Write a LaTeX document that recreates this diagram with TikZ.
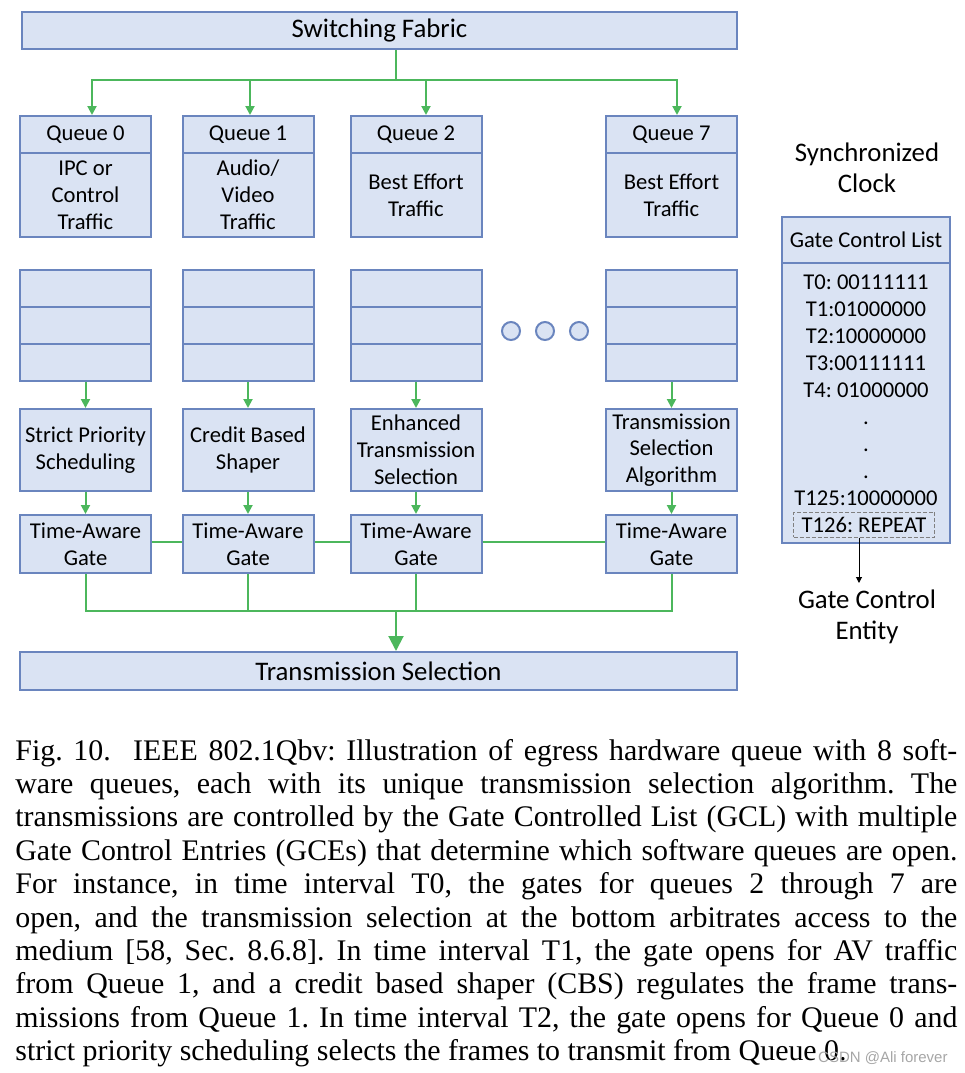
\documentclass[tikz,border=0pt]{standalone}
\usepackage{fontspec}
\setmainfont{Carlito}
\newfontfamily\capfont{Liberation Serif}
\newfontfamily\markfont{Liberation Sans}
\usetikzlibrary{arrows.meta}
\definecolor{boxfill}{RGB}{218,227,243}
\definecolor{boxline}{RGB}{106,133,190}
\definecolor{flow}{RGB}{76,183,92}
\newcommand\qfont{\fontsize{11.3}{13.4}\selectfont}
\newcommand\hfont{\fontsize{13.4}{15.5}\selectfont}
\frenchspacing

\begin{document}
\begin{tikzpicture}[x=0.5pt,y=-0.5pt,
  box/.style={rectangle,draw=boxline,fill=boxfill,line width=1pt,inner sep=0pt,align=center,font=\qfont},
  col/.style={box,minimum width=65.5pt},
  cell/.style={col,minimum height=18.5pt},
  wide/.style={box,font=\hfont,minimum height=18.5pt},
  ring/.style={circle,draw=boxline,fill=boxfill,line width=1pt,minimum size=9pt,inner sep=0pt},
  wire/.style={draw=flow,line width=1pt},
  feed/.style={wire,-{Triangle[length=4.5pt,width=4.5pt]}},
  bigfeed/.style={wire,-{Triangle[length=7.5pt,width=7.5pt]}}]
\useasboundingbox (0,0) rectangle (965,1073);

\node[wide,minimum width=357.5pt] (sf) at (379.5,30.5) {Switching Fabric};

% queues
\node[cell] (q0) at (85.5,134.5) {Queue 0};
\node[col,minimum height=42pt] (t0) at (85.5,195) {IPC or\\Control\\Traffic};
\node[cell] (q1) at (248,134.5) {Queue 1};
\node[col,minimum height=42pt] (t1) at (248,195) {Audio/\\Video\\Traffic};
\node[cell] (q2) at (416,134.5) {Queue 2};
\node[col,minimum height=42pt] (t2) at (416,195) {Best Effort\\Traffic};
\node[cell] (q7) at (671.5,134.5) {Queue 7};
\node[col,minimum height=42pt] (t7) at (671.5,195) {Best Effort\\Traffic};

% buffers
\node[cell] (s0a) at (85.5,288.5) {};
\node[cell] (s0b) at (85.5,325.5) {};
\node[cell] (s0c) at (85.5,362.5) {};
\node[cell] (s1a) at (248,288.5) {};
\node[cell] (s1b) at (248,325.5) {};
\node[cell] (s1c) at (248,362.5) {};
\node[cell] (s2a) at (416,288.5) {};
\node[cell] (s2b) at (416,325.5) {};
\node[cell] (s2c) at (416,362.5) {};
\node[cell] (s7a) at (671.5,288.5) {};
\node[cell] (s7b) at (671.5,325.5) {};
\node[cell] (s7c) at (671.5,362.5) {};

\node[ring] (r1) at (511,331) {};
\node[ring] (r2) at (545,331) {};
\node[ring] (r3) at (579,331) {};

% selection algorithms
\node[col,minimum height=41pt] (a0) at (85.5,450) {Strict Priority\\Scheduling};
\node[col,minimum height=41pt] (a1) at (248,450) {Credit Based\\Shaper};
\node[col,minimum height=41pt] (a2) at (416,450) {Enhanced\\Transmission\\Selection};
\node[col,minimum height=41pt] (a7) at (671.5,450) {Transmission\\Selection\\Algorithm};

% gates
\node[col,minimum height=29pt] (g0) at (85.5,544) {Time-Aware\\Gate};
\node[col,minimum height=29pt] (g1) at (248,544) {Time-Aware\\Gate};
\node[col,minimum height=29pt] (g2) at (416,544) {Time-Aware\\Gate};
\node[col,minimum height=29pt] (g7) at (671.5,544) {Time-Aware\\Gate};

\node[wide,minimum width=358.5pt,minimum height=19pt] (ts) at (378.5,671) {Transmission Selection};

% gate control list
\node[font=\hfont,align=center,inner sep=0pt,anchor=north] (sync) at (867,142) {Synchronized\\Clock};
\node[box,minimum width=84pt,minimum height=23pt] (gclh) at (866,240) {Gate Control List};
\node[box,minimum width=84pt,minimum height=140pt] (gcl) at (866,403) {};
\node[font=\fontsize{11.3}{13.5}\selectfont,align=center,inner sep=0pt,anchor=north] (gce) at (866,274.5)
  {T0: 00111111\\T1:01000000\\T2:10000000\\T3:00111111\\T4: 01000000\\.\\.\\.\\T125:10000000};
\node[draw=gray,dash pattern=on 2pt off 1pt,line width=0.5pt,minimum width=70.5pt,minimum height=12.5pt,
  inner sep=0pt,font=\qfont] (rep) at (864,524.5) {T126: REPEAT};
\node[font=\hfont,align=center,inner sep=3pt,anchor=north] (ent) at (867,583) {Gate Control\\Entity};

% connections
\coordinate (fork) at (396,80);
\draw[wire] ([xshift=8.25pt]sf.south) -- (fork);
\draw[feed] (fork) -| ([xshift=3.25pt]q0.north);
\draw[feed] (fork) -| ([xshift=1pt]q1.north);
\draw[feed] (fork) -| ([xshift=5pt]q2.north);
\draw[feed] (fork) -| ([xshift=2.75pt]q7.north);

\draw[feed] (s0c.south) -- (a0.north);
\draw[feed] (s1c.south) -- (a1.north);
\draw[feed] (s2c.south) -- (a2.north);
\draw[feed] (s7c.south) -- (a7.north);
\draw[feed] (a0.south) -- (g0.north);
\draw[feed] (a1.south) -- (g1.north);
\draw[feed] (a2.south) -- (g2.north);
\draw[feed] (a7.south) -- (g7.north);

\draw[wire,line width=1.3pt] ([yshift=1pt]g0.east) -- ([yshift=1pt]g1.west);
\draw[wire,line width=1.3pt] ([yshift=1pt]g1.east) -- ([yshift=1pt]g2.west);
\draw[wire,line width=1.3pt] ([yshift=1pt]g2.east) -- ([yshift=1pt]g7.west);

\coordinate (join) at (396,611);
\draw[wire] (g0.south) |- (join);
\draw[wire] (g7.south) |- (join);
\draw[wire] (g1.south) -- (g1.south |- join);
\draw[wire] (g2.south) -- (g2.south |- join);
\draw[bigfeed] (join) -- (join |- ts.north);

\draw[line width=0.5pt,-{Triangle[length=3pt,width=3pt]}] ([xshift=-2.5pt]rep.south) -- ([xshift=-2.5pt]rep.south |- ent.north);

% caption
\node[font=\capfont\fontsize{14.95}{16.7}\selectfont,align=left,inner sep=0pt,anchor=north west] (cap) at (15,738.6)
  {\makebox[471pt][s]{Fig. 10.\hskip0.75em IEEE 802.1Qbv: Illustration of egress hardware queue with 8 soft-}\\
   \makebox[471pt][s]{ware queues, each with its unique transmission selection algorithm. The}\\
   \makebox[471pt][s]{transmissions are controlled by the Gate Controlled List (GCL) with multiple}\\
   \makebox[471pt][s]{Gate Control Entries (GCEs) that determine which software queues are open.}\\
   \makebox[471pt][s]{For instance, in time interval T0, the gates for queues 2 through 7 are}\\
   \makebox[471pt][s]{open, and the transmission selection at the bottom arbitrates access to the}\\
   \makebox[471pt][s]{medium [58, Sec. 8.6.8]. In time interval T1, the gate opens for AV traffic}\\
   \makebox[471pt][s]{from Queue 1, and a credit based shaper (CBS) regulates the frame trans-}\\
   \makebox[471pt][s]{missions from Queue 1. In time interval T2, the gate opens for Queue 0 and}\\
   strict priority scheduling selects the frames to transmit from Queue 0.};
\node[font=\markfont\fontsize{7.5}{9}\selectfont,text=gray!70,anchor=base east,inner sep=0pt] (mark) at (948,1062) {CSDN @Ali forever};
\end{tikzpicture}
\end{document}
